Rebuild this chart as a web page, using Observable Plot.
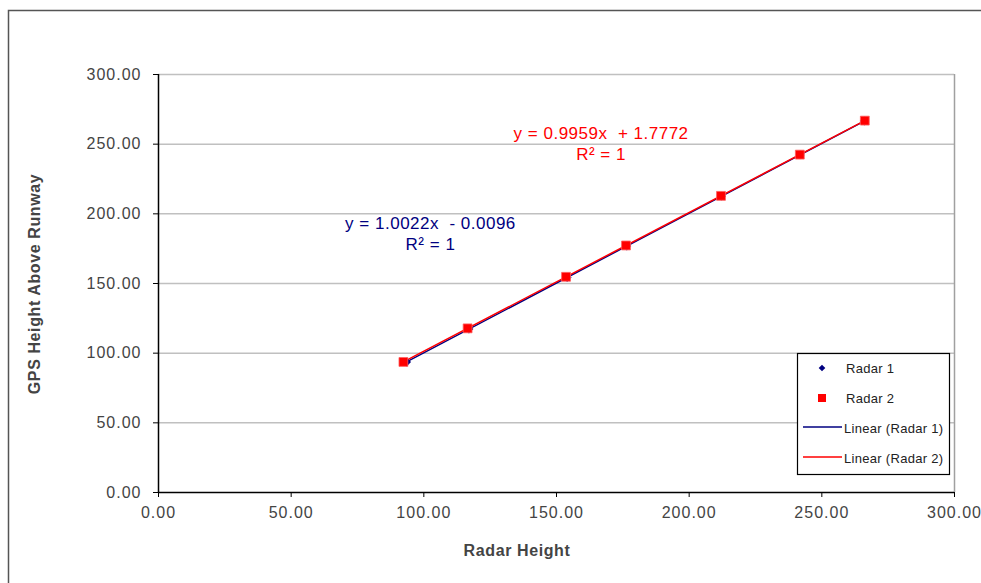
<!DOCTYPE html>
<html>
<head>
<meta charset="utf-8">
<script src="https://cdn.jsdelivr.net/npm/d3@7"></script>
<script src="https://cdn.jsdelivr.net/npm/@observablehq/plot@0.6"></script>
<style>
  html, body { margin: 0; padding: 0; background: #fff; }
  #chart { width: 981px; height: 583px; overflow: hidden; }
  svg { font-family: "Liberation Sans", Arial, sans-serif; }
</style>
</head>
<body>
<div id="chart"></div>
<script>
// Data
const radar1X = [93.5, 117.0, 154.0, 176.5, 212.2, 241.8, 266.0];
const radar1Y = [93.7, 117.3, 154.3, 176.9, 212.7, 242.3, 266.6];
const radar2X = [92.3, 116.5, 153.6, 176.2, 212.0, 241.7, 266.2];
const radar2Y = [93.7, 117.8, 154.8, 177.3, 212.9, 242.5, 266.9];
const tickValues = [0, 50, 100, 150, 200, 250, 300];
const seriesNames = ["Radar 1", "Radar 2", "Linear (Radar 1)", "Linear (Radar 2)"];
const eq1 = ["y = 1.0022x  - 0.0096", "R² = 1"];
const eq2 = ["y = 0.9959x  + 1.7772", "R² = 1"];

const s1 = radar1X.map((x, i) => ({x, y: radar1Y[i]}));
const s2 = radar2X.map((x, i) => ({x, y: radar2Y[i]}));

const BLUE = "#000080", RED = "#ff0000";
const fmt = d => d.toFixed(2);

const plot = Plot.plot({
  width: 981,
  height: 583,
  marginLeft: 158,
  marginRight: 27,
  marginTop: 74,
  marginBottom: 91,
  style: {fontFamily: "'Liberation Sans', Arial, sans-serif", background: "#fff"},
  x: {domain: [0, 300]},
  y: {domain: [0, 300]},
  marks: [
    Plot.gridY(tickValues.slice(1), {stroke: "#c0c0c0", strokeOpacity: 1, strokeWidth: 1.5}),
    Plot.ruleX([300], {stroke: "#a0a0a0", strokeWidth: 1.5}),
    Plot.axisX(tickValues, {tickFormat: fmt, tickSize: 5, tickPadding: 9, fontSize: 16, fill: "#444", stroke: "#000", label: null}),
    Plot.axisY(tickValues, {tickFormat: fmt, tickSize: 5, tickPadding: 12, fontSize: 16, fill: "#444", stroke: "#000", label: null}),
    Plot.ruleX([0], {stroke: "#000", strokeWidth: 1.5}),
    Plot.ruleY([0], {stroke: "#000", strokeWidth: 1.5}),
    Plot.linearRegressionY(s1, {x: "x", y: "y", stroke: BLUE, strokeWidth: 1.5, ci: 0}),
    Plot.linearRegressionY(s2, {x: "x", y: "y", stroke: RED, strokeWidth: 1.5, ci: 0}),
    Plot.dot(s1, {x: "x", y: "y", symbol: "diamond2", r: 4, fill: BLUE, stroke: "none"}),
    Plot.dot(s2, {x: "x", y: "y", symbol: "square", r: 5, fill: RED, stroke: "#ff6060", strokeWidth: 0.8}),
    Plot.text(eq1, {x: 102.5, y: (d, i) => [193.3, 178.2][i], text: d => d, fill: BLUE, fontSize: 17, textAnchor: "middle"}),
    Plot.text(eq2, {x: 166.8, y: (d, i) => [257.8, 242.2][i], text: d => d, fill: RED, fontSize: 17, textAnchor: "middle"})
  ]
});

const svg = d3.select(plot);
svg.selectAll('g[aria-label="x-axis tick label"], g[aria-label="y-axis tick label"]').attr("letter-spacing", 1);
svg.selectAll('g[aria-label="text"]').attr("letter-spacing", 0.5);

// outer chart frame
svg.insert("rect", ":first-child")
  .attr("x", 8.5).attr("y", 10.5).attr("width", 1000).attr("height", 600)
  .attr("fill", "none").attr("stroke", "#555").attr("stroke-width", 1.5);

// axis titles
svg.append("text").attr("x", 517).attr("y", 556).attr("text-anchor", "middle")
  .attr("font-size", 16).attr("font-weight", "bold").attr("fill", "#444")
  .attr("letter-spacing", 0.6).text("Radar Height");
svg.append("text").attr("transform", "translate(40,284) rotate(-90)")
  .attr("text-anchor", "middle").attr("font-size", 16).attr("font-weight", "bold")
  .attr("fill", "#444").attr("letter-spacing", 0.6).text("GPS Height Above Runway");

// legend
const lg = svg.append("g").attr("text-anchor", "start");
lg.append("rect").attr("x", 797.5).attr("y", 353.5).attr("width", 152).attr("height", 121)
  .attr("fill", "#fff").attr("stroke", "#000").attr("stroke-width", 1.2);
const rows = [368, 398, 428, 458];
seriesNames.forEach((name, i) => {
  const y = rows[i];
  if (i === 0) {
    lg.append("path").attr("d", d3.symbol(d3.symbolSquare, 22)())
      .attr("transform", `translate(822,${y}) rotate(45)`).attr("fill", BLUE);
  } else if (i === 1) {
    lg.append("rect").attr("x", 818).attr("y", y - 4).attr("width", 8).attr("height", 8).attr("fill", RED);
  } else {
    lg.append("line").attr("x1", 803).attr("x2", 842).attr("y1", y - 1).attr("y2", y - 1)
      .attr("stroke", i === 2 ? BLUE : RED).attr("stroke-width", 1.5);
  }
  lg.append("text").attr("x", i < 2 ? 846 : 844).attr("y", y + 4.5)
    .attr("text-anchor", "start").attr("letter-spacing", 0.3)
    .attr("font-size", 13).attr("fill", "#222").text(name);
});

document.getElementById("chart").appendChild(plot);
</script>
</body>
</html>
